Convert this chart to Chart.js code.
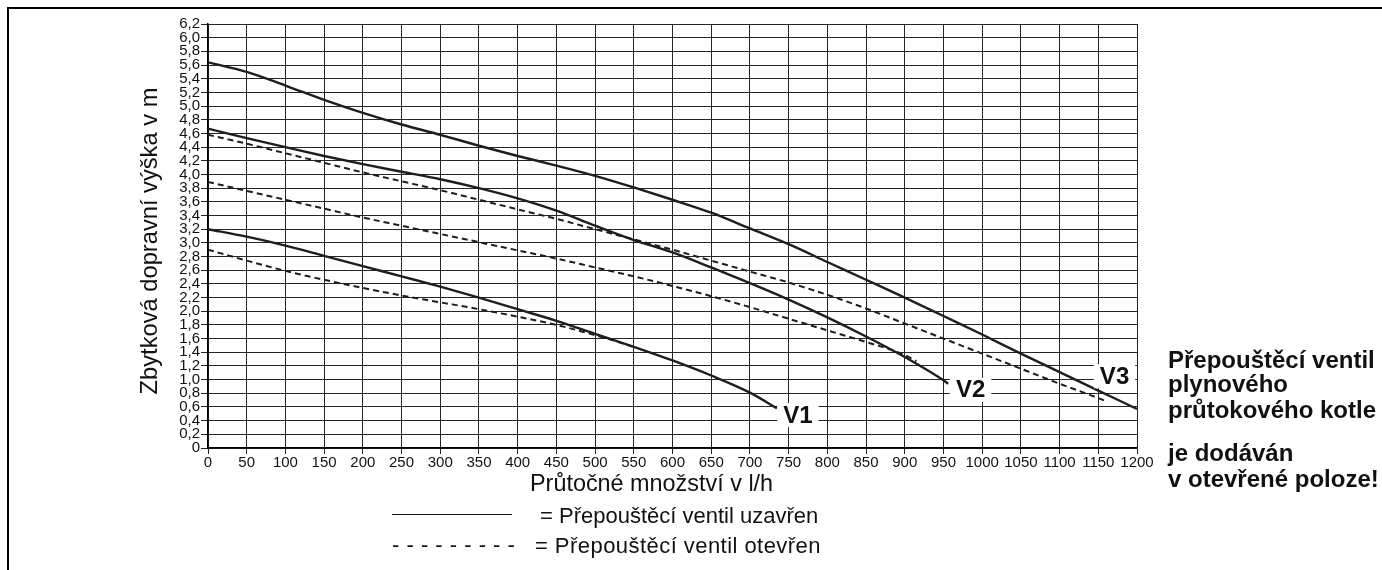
<!DOCTYPE html>
<html>
<head>
<meta charset="utf-8">
<script src="https://cdn.jsdelivr.net/npm/chart.js@4.4.0/dist/chart.umd.min.js"></script>
<style>
  body { margin: 0; background: #fff; overflow: hidden; font-family: "Liberation Sans", Arial, sans-serif; }
  #wrap { position: relative; width: 1382px; height: 570px; }
  #c { position: absolute; left: 0; top: 0; }
  .frame { position: absolute; left: 7px; top: 7px; width: 1375px; height: 563px; border-top: 2px solid #000; border-left: 2px solid #000; }
  .ytitle { position: absolute; left: 149px; top: 241px; font-size: 23.7px; line-height: 26px; color: #111; white-space: nowrap;
            transform: translate(-50%, -50%) rotate(-90deg); }
  .xtitle { position: absolute; left: 530px; top: 470px; font-size: 23.4px; line-height: 26px; color: #111; white-space: nowrap; }
  .note { position: absolute; left: 1168px; font-weight: bold; font-size: 24px; line-height: 25px; color: #111; white-space: nowrap; }
  .leg { position: absolute; font-size: 22px; line-height: 26px; color: #111; white-space: nowrap; }
  .dashes { word-spacing: 1px; }
  .solid { position: absolute; left: 392px; top: 514px; width: 120px; border-top: 1.5px solid #111; }
</style>
</head>
<body>
<div id="wrap">
  <canvas id="c" width="1382" height="570"></canvas>
  <div class="frame"></div>
  <div class="ytitle">Zbytková dopravní výška v m</div>
  <div class="xtitle">Průtočné množství v l/h</div>
  <div class="solid"></div>
  <div class="leg" style="left:540px; top:503px;">= Přepouštěcí ventil uzavřen</div>
  <div class="leg dashes" style="left:392px; top:532px;">- - - - - - - - -</div>
  <div class="leg" style="left:535px; top:533px; letter-spacing:0.45px;">= Přepouštěcí ventil otevřen</div>
  <div class="note" style="top:347px;">Přepouštěcí ventil</div>
  <div class="note" style="top:371px;">plynového</div>
  <div class="note" style="top:397px;">průtokového kotle</div>
  <div class="note" style="top:440px;">je dodáván</div>
  <div class="note" style="top:466px;">v otevřené poloze!</div>
</div>
<script>
// osa x: průtok v l/h, osa y: zbytková dopravní výška v m
const xTicks = [0, 50, 100, 150, 200, 250, 300, 350, 400, 450, 500, 550, 600,
  650, 700, 750, 800, 850, 900, 950, 1000, 1050, 1100, 1150, 1200];
const yTicks = [0, 0.2, 0.4, 0.6, 0.8, 1.0, 1.2, 1.4, 1.6, 1.8, 2.0, 2.2, 2.4, 2.6,
  2.8, 3.0, 3.2, 3.4, 3.6, 3.8, 4.0, 4.2, 4.4, 4.6, 4.8, 5.0, 5.2, 5.4, 5.6, 5.8, 6.0, 6.2];

// V1 - ventil uzavřen / otevřen
const v1ClosedX = [0, 50, 100, 150, 200, 250, 300, 350, 400, 450, 500, 550, 600, 650, 700, 735];
const v1ClosedY = [3.20, 3.09, 2.96, 2.81, 2.66, 2.51, 2.36, 2.20, 2.03, 1.86, 1.67, 1.48, 1.28, 1.06, 0.81, 0.58];
const v1OpenX = [0, 50, 100, 150, 200, 250, 300, 350, 400, 450, 500, 550];
const v1OpenY = [2.90, 2.74, 2.59, 2.46, 2.34, 2.23, 2.13, 2.03, 1.92, 1.80, 1.65, 1.48];

// V2
const v2ClosedX = [0, 50, 100, 150, 200, 250, 300, 350, 400, 450, 500, 550, 600, 650, 700, 750, 800, 850, 900, 950, 956];
const v2ClosedY = [4.67, 4.53, 4.40, 4.27, 4.15, 4.04, 3.93, 3.80, 3.65, 3.47, 3.25, 3.04, 2.86, 2.64, 2.41, 2.17, 1.91, 1.63, 1.33, 0.99, 0.94];
const v2OpenX = [0, 50, 100, 150, 200, 250, 300, 350, 400, 450, 500, 550, 600, 650, 700, 750, 800, 850, 900, 915];
const v2OpenY = [3.89, 3.76, 3.63, 3.50, 3.37, 3.25, 3.13, 3.01, 2.89, 2.77, 2.64, 2.51, 2.37, 2.22, 2.06, 1.89, 1.72, 1.55, 1.36, 1.27];

// V3
const v3ClosedX = [0, 50, 100, 150, 200, 250, 300, 350, 400, 450, 500, 550, 600, 650, 700, 750, 800, 850, 900, 950, 1000, 1050, 1100, 1150, 1200];
const v3ClosedY = [5.64, 5.50, 5.30, 5.09, 4.90, 4.73, 4.58, 4.42, 4.27, 4.13, 3.98, 3.81, 3.63, 3.44, 3.21, 2.98, 2.72, 2.46, 2.20, 1.93, 1.66, 1.38, 1.11, 0.84, 0.57];
const v3OpenX = [0, 50, 100, 150, 200, 250, 300, 350, 400, 450, 500, 550, 600, 650, 700, 750, 800, 850, 900, 950, 1000, 1050, 1100, 1150, 1161];
const v3OpenY = [4.58, 4.45, 4.31, 4.17, 4.03, 3.90, 3.77, 3.63, 3.49, 3.35, 3.20, 3.05, 2.90, 2.74, 2.58, 2.42, 2.24, 2.04, 1.82, 1.60, 1.38, 1.16, 0.94, 0.73, 0.68];

// popisky křivek (V1, V2, V3) v souřadnicích grafu
const curveNames = ['V1', 'V2', 'V3'];
const curveLabelX = [762, 985, 1171];
const curveLabelY = [0.48, 0.85, 1.05];

const FONT = '"Liberation Sans", Arial, sans-serif';
const INK = '#1e1e1e';

function pts(xs, ys) {
  return xs.map((x, i) => ({ x: x, y: ys[i] }));
}

function curve(xs, ys, dashed) {
  return {
    data: pts(xs, ys),
    borderColor: INK,
    borderWidth: dashed ? 2 : 2.4,
    borderDash: dashed ? [6, 4] : [],
    pointRadius: 0,
    cubicInterpolationMode: 'monotone',
    fill: false
  };
}

function fmtY(v) {
  return v === 0 ? '0' : v.toFixed(1).replace('.', ',');
}

const curveLabels = {
  id: 'curveLabels',
  afterDatasetsDraw(chart) {
    const { ctx, scales } = chart;
    ctx.save();
    ctx.font = 'bold 24px ' + FONT;
    ctx.textAlign = 'center';
    ctx.textBaseline = 'middle';
    curveNames.forEach((name, i) => {
      const px = scales.x.getPixelForValue(curveLabelX[i]);
      const py = scales.y.getPixelForValue(curveLabelY[i]);
      const w = ctx.measureText(name).width;
      ctx.fillStyle = '#fff';
      ctx.fillRect(px - w / 2 - 6, py - 12, w + 12, 24);
      ctx.fillStyle = '#111';
      ctx.fillText(name, px, py + 1);
    });
    ctx.restore();
  }
};

new Chart(document.getElementById('c'), {
  type: 'line',
  data: {
    datasets: [
      curve(v3ClosedX, v3ClosedY, false),
      curve(v3OpenX, v3OpenY, true),
      curve(v2ClosedX, v2ClosedY, false),
      curve(v2OpenX, v2OpenY, true),
      curve(v1ClosedX, v1ClosedY, false),
      curve(v1OpenX, v1OpenY, true)
    ]
  },
  options: {
    responsive: false,
    animation: false,
    layout: { padding: { left: 0, right: 245, top: 24, bottom: 0 } },
    plugins: { legend: { display: false }, tooltip: { enabled: false } },
    scales: {
      x: {
        type: 'linear',
        min: 0,
        max: 1200,
        afterFit: (axis) => { axis.height = 122; },
        afterBuildTicks: (axis) => { axis.ticks = xTicks.map(v => ({ value: v })); },
        grid: { color: '#262626', lineWidth: 1, tickLength: 6 },
        border: { color: '#000', width: 1.5 },
        ticks: {
          autoSkip: false,
          maxRotation: 0,
          padding: 0,
          color: '#111',
          font: { family: FONT, size: 15 },
          callback: (v) => String(v)
        }
      },
      y: {
        type: 'linear',
        min: 0,
        max: 6.2,
        afterFit: (axis) => { axis.width = 208; },
        afterBuildTicks: (axis) => { axis.ticks = yTicks.map(v => ({ value: v })); },
        grid: { color: '#262626', lineWidth: 1, tickLength: 7 },
        border: { color: '#000', width: 1.5 },
        ticks: {
          autoSkip: false,
          padding: 1,
          color: '#111',
          font: { family: FONT, size: 15 },
          callback: (v) => fmtY(v)
        }
      }
    }
  },
  plugins: [curveLabels]
});
</script>
</body>
</html>
